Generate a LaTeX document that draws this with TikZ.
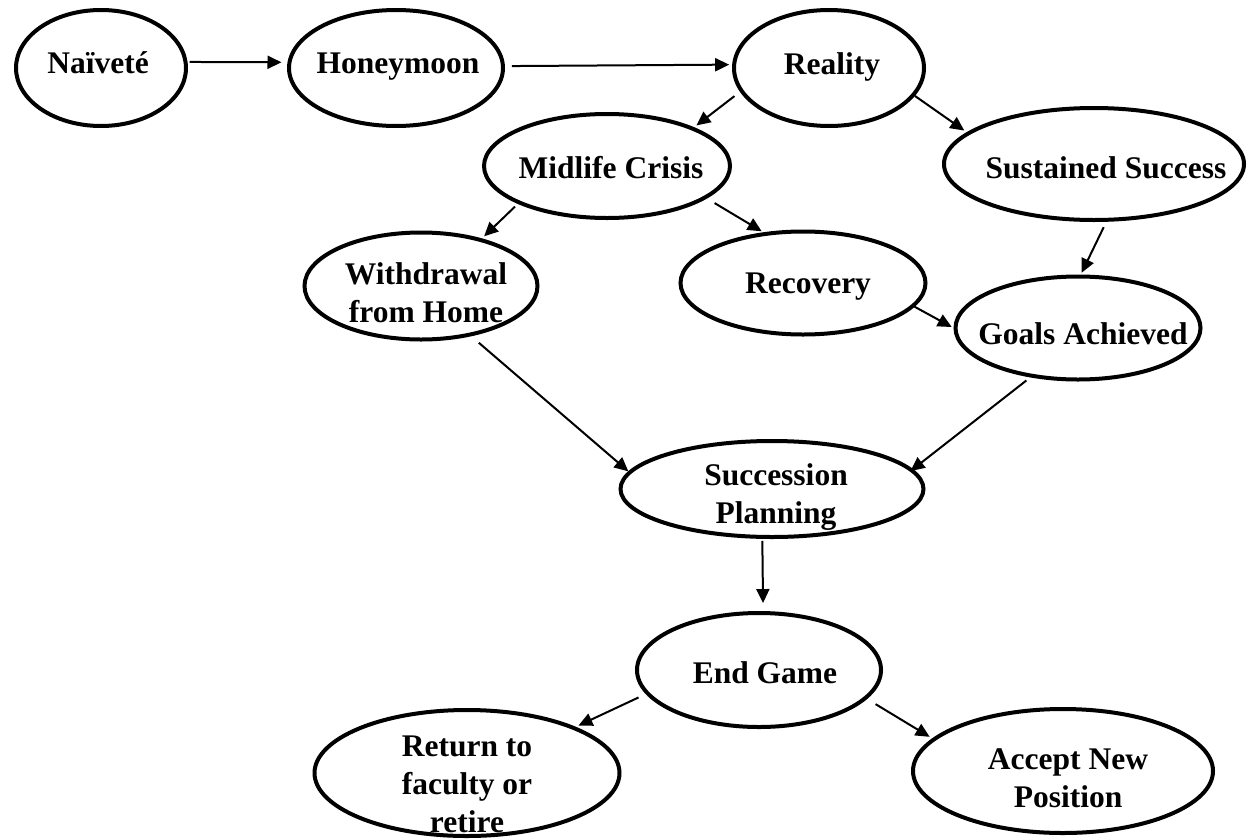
\documentclass[tikz,border=0pt]{standalone}
\usepackage{fontspec}
\setmainfont{Liberation Serif}
\usetikzlibrary{arrows.meta,shapes.geometric}
\tikzset{
  ell/.style={ellipse, draw=black, line width=4pt, inner sep=0pt},
  lbl/.style={anchor=base, align=center, inner sep=0pt, font=\fontsize{31.5}{38}\selectfont\bfseries},
  arr/.style={line width=2pt, -{Triangle[length=14pt,width=13pt]}},
}
\begin{document}
\begin{tikzpicture}[x=1pt,y=-1pt]
\useasboundingbox (0,0) rectangle (1247,838);
\clip (0,0) rectangle (1247,838);
% ellipses
\node[ell, minimum width=170pt, minimum height=116pt] (nai) at (101,68) {};
\node[ell, minimum width=214pt, minimum height=116pt] (hon) at (396,68) {};
\node[ell, minimum width=190pt, minimum height=116pt] (rea) at (829,68) {};
\node[ell, minimum width=246pt, minimum height=104pt] (mid) at (607,166) {};
\node[ell, minimum width=300pt, minimum height=112pt] (sus) at (1094,164) {};
\node[ell, minimum width=233pt, minimum height=107pt] (wit) at (421,286) {};
\node[ell, minimum width=245pt, minimum height=103pt] (rec) at (803,283) {};
\node[ell, minimum width=245pt, minimum height=103pt] (goa) at (1078,328) {};
\node[ell, minimum width=303pt, minimum height=96pt] (suc) at (772,489) {};
\node[ell, minimum width=244pt, minimum height=114pt] (end) at (759,670) {};
\node[ell, minimum width=305pt, minimum height=126pt] (ret) at (467,773) {};
\node[ell, minimum width=300pt, minimum height=124pt] (acc) at (1063,771) {};
% labels
\node[lbl] (nai-t) at (98,73) {Naïveté};
\node[lbl] (hon-t) at (398,73) {Honeymoon};
\node[lbl] (rea-t) at (832,74) {Reality};
\node[lbl] (mid-t) at (611,178) {Midlife Crisis};
\node[lbl] (sus-t) at (1106,178) {Sustained Success};
\node[lbl] (wit-t) at (426,322) {Withdrawal\\from Home};
\node[lbl] (rec-t) at (808,293) {Recovery};
\node[lbl] (goa-t) at (1083,344) {Goals Achieved};
\node[lbl] (suc-t) at (776,523) {Succession\\Planning};
\node[lbl] (end-t) at (765,683) {End Game};
\node[lbl] (ret-t) at (467,832) {Return to\\faculty or\\retire};
\node[lbl] (acc-t) at (1068,807) {Accept New\\Position};
% connectors
\draw[arr, shorten <=2pt, shorten >=6pt] (nai.4) -- (hon.177);
\draw[arr, shorten <=7pt, shorten >=3pt] (hon.1.5) -- (rea.178.3);
\draw[arr, shorten <=7pt, shorten >=3pt] (rea.195.5) -- (mid.24.4);
\draw[arr, shorten <=0pt, shorten >=3pt] (rea.342.2) -- (sus.166);
\draw[arr, shorten <=4pt, shorten >=3pt] (mid.203.4) -- (wit.38.3);
\draw[arr, shorten <=9pt, shorten >=2pt] (mid.342.5) -- (rec.128.1);
\draw[arr, shorten <=6pt, shorten >=2pt] (sus.282.5) -- (goa.87.9);
\draw[arr, shorten <=0pt, shorten >=2pt] (rec.348.7) -- (goa.180);
\draw[arr, shorten <=10pt, shorten >=0pt] (wit.315) -- (suc.173.7);
\draw[arr, shorten <=5pt, shorten >=-3pt] (goa.226.1) -- (suc.8.5);
\draw[arr, shorten <=2pt, shorten >=8pt] (suc.259.8) -- (end.86.6);
\draw[arr, shorten <=8pt, shorten >=3pt] (end.192.4) -- (ret.23.6);
\draw[arr, shorten <=10pt, shorten >=3pt] (end.345.1) -- (acc.166);
\end{tikzpicture}
\end{document}
